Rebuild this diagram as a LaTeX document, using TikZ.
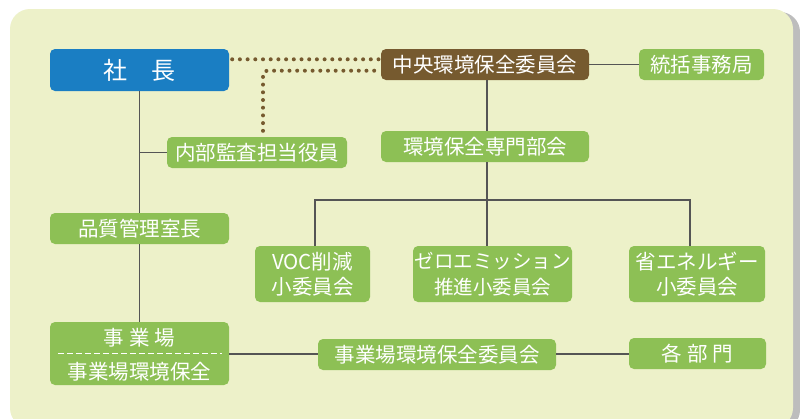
\documentclass[tikz,border=0pt]{standalone}
\usepackage{fontspec}
\setmainfont{Noto Sans CJK JP}
\definecolor{bgc}{HTML}{EDF1C9}
\definecolor{grn}{HTML}{8DC055}
\definecolor{blu}{HTML}{1A7EC3}
\definecolor{brn}{HTML}{765A2F}
\definecolor{lnc}{HTML}{555555}
\definecolor{shd}{HTML}{BDBDBD}
\tikzset{
  box/.style={rounded corners=5pt, inner sep=0pt, text=white, font=\fontsize{20.5}{25.5}\selectfont, align=center},
  gbox/.style={box, fill=grn},
  conn/.style={draw=lnc, line width=1.2pt},
  dots/.style={draw=brn, line width=4pt, line cap=round, dash pattern=on 0pt off 7.7pt},
}
\begin{document}
\begin{tikzpicture}[x=1pt,y=-1pt]
\useasboundingbox (0,0) rectangle (800,418);
\begin{scope}
\clip (0,0) rectangle (800,418);
\fill[white] (0,0) rectangle (800,418);
\fill[shd, rounded corners=20pt] (14,12) rectangle (800,430);
\fill[bgc, rounded corners=20pt] (10,9) rectangle (793,428);
\end{scope}

\node[box, fill=blu, minimum width=179pt, minimum height=42pt, font=\fontsize{24}{28}\selectfont] (shacho) at (139.5,70) {社\hspace{24pt}長};
\node[box, fill=brn, minimum width=208pt, minimum height=31pt] (chuo) at (485,64.5) {中央環境保全委員会};
\node[gbox, minimum width=125pt, minimum height=31pt] (tokatsu) at (701.5,64.5) {統括事務局};
\node[gbox, minimum width=208pt, minimum height=31pt] (senmon) at (485,146.5) {環境保全専門部会};
\node[gbox, minimum width=180pt, minimum height=31pt] (naibu) at (257,152.5) {内部監査担当役員};
\node[gbox, minimum width=179pt, minimum height=31pt] (hinshitsu) at (139.5,228.5) {品質管理室長};
\node[gbox, minimum width=115pt, minimum height=56pt] (voc) at (312.5,274) {VOC削減\\小委員会};
\node[gbox, minimum width=159pt, minimum height=56pt, font=\fontsize{19.5}{25.5}\selectfont] (zero) at (492.5,274) {ゼロエミッション\\推進小委員会};
\node[gbox, minimum width=136pt, minimum height=56pt] (shoene) at (697,274) {省エネルギー\\小委員会};
\node[gbox, minimum width=179pt, minimum height=63pt] (jigyo) at (139.5,353.5) {};
\node[box] (jigyo1) at (139.5,337.5) {事\hspace{5pt}業\hspace{5pt}場};
\node[box] (jigyo2) at (139.5,371.5) {事業場環境保全};
\node[gbox, minimum width=238pt, minimum height=31pt] (jiiinkai) at (437,354.5) {事業場環境保全委員会};
\node[gbox, minimum width=137pt, minimum height=31pt] (kakubu) at (697.5,353.5) {各\hspace{5pt}部\hspace{5pt}門};

\draw[white, line width=1pt, dash pattern=on 6pt off 3pt] ([xshift=8pt]jigyo.west |- 0,353) -- ([xshift=-7pt]jigyo.east |- 0,353);

% connectors
\draw[conn] (shacho.south) -- (hinshitsu.north);
\draw[conn] (hinshitsu.south) -- (jigyo.north);
\draw[conn] (shacho.south |- naibu.west) -- (naibu.west);
\draw[conn] (chuo.east) -- (tokatsu.west);
\draw[conn] (chuo.south -| 487,0) -- (senmon.north -| 487,0);
\draw[conn] (senmon.south -| 487,0) -- (zero.north -| 487,0);
\draw[conn] (voc.north -| 315,0) |- (487,200) -| (shoene.north -| 690,0);
\draw[conn] (jigyo.east |- 0,354) -- (jiiinkai.west |- 0,354);
\draw[conn] (jiiinkai.east |- 0,354) -- (kakubu.west |- 0,354);

% dotted links
\draw[dots] ([xshift=3pt]shacho.east |- 0,59.3) -- ([xshift=-2pt]chuo.west |- 0,59.3);
\draw[dots, rounded corners=4pt] ([yshift=6pt]naibu.north -| 263,0) |- ([xshift=-2pt]chuo.west |- 0,70.7);
\end{tikzpicture}
\end{document}
